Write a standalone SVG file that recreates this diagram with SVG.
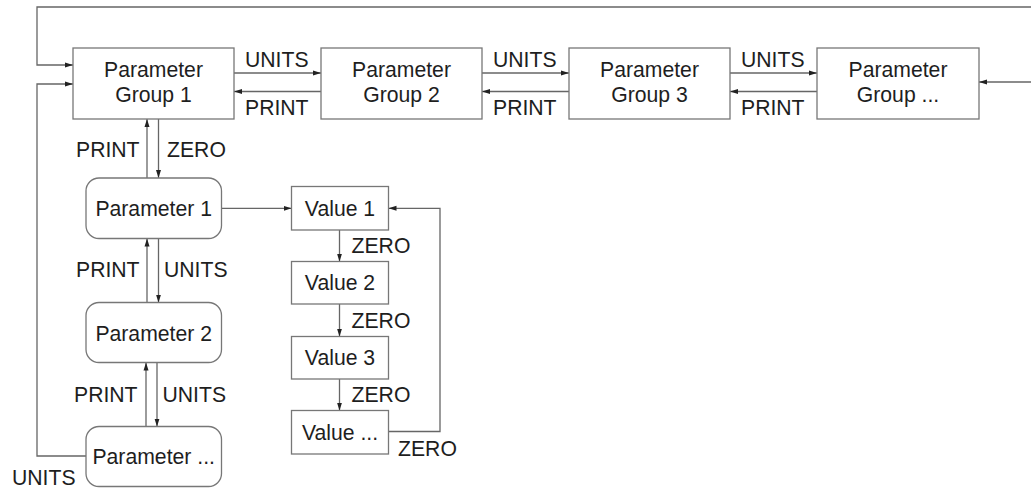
<svg xmlns="http://www.w3.org/2000/svg" width="1031" height="489" viewBox="0 0 1031 489">
<style>
.box{fill:#fff;stroke:#777;stroke-width:1.3}
.ln{fill:none;stroke:#666;stroke-width:1.3}
text{font-family:"Liberation Sans",Arial,sans-serif;font-size:21.2px;fill:#1e1e1e}
.c{text-anchor:middle}
</style>
<defs>
<marker id="ah" markerUnits="userSpaceOnUse" markerWidth="9" markerHeight="6" refX="8" refY="3" orient="auto">
<path d="M0,0.5 L8,3 L0,5.5 z" fill="#222"/>
</marker>
</defs>
<rect width="1031" height="489" fill="#fff"/>
<g id="connectors">
<path class="ln" d="M1031,7 H37 V65 H73" marker-end="url(#ah)"/>
<path class="ln" d="M86,456 H37 V84 H73" marker-end="url(#ah)"/>
<path class="ln" d="M1031,82 H979" marker-end="url(#ah)"/>
<path class="ln" d="M234,73 H321" marker-end="url(#ah)"/>
<path class="ln" d="M321,91.5 H234" marker-end="url(#ah)"/>
<path class="ln" d="M482,73 H569" marker-end="url(#ah)"/>
<path class="ln" d="M569,91.5 H482" marker-end="url(#ah)"/>
<path class="ln" d="M730,73 H817" marker-end="url(#ah)"/>
<path class="ln" d="M817,91.5 H730" marker-end="url(#ah)"/>
<path class="ln" d="M147,178 V119" marker-end="url(#ah)"/>
<path class="ln" d="M158.5,119 V178" marker-end="url(#ah)"/>
<path class="ln" d="M147,302.5 V238.5" marker-end="url(#ah)"/>
<path class="ln" d="M158.5,238.5 V302.5" marker-end="url(#ah)"/>
<path class="ln" d="M146,426.5 V362.5" marker-end="url(#ah)"/>
<path class="ln" d="M157,362.5 V426.5" marker-end="url(#ah)"/>
<path class="ln" d="M221.5,208.3 H291.5" marker-end="url(#ah)"/>
<path class="ln" d="M339.5,230 V261.5" marker-end="url(#ah)"/>
<path class="ln" d="M339.5,304 V336.5" marker-end="url(#ah)"/>
<path class="ln" d="M339.5,379 V410.5" marker-end="url(#ah)"/>
<path class="ln" d="M388.5,431.5 H440 V208.3 H388.5" marker-end="url(#ah)"/>
</g>
<g id="labels">
<text x="245" y="67">UNITS</text>
<text x="245" y="115">PRINT</text>
<text x="493" y="67">UNITS</text>
<text x="493" y="115">PRINT</text>
<text x="741" y="67">UNITS</text>
<text x="741" y="115">PRINT</text>
<text x="76" y="157">PRINT</text>
<text x="167" y="157">ZERO</text>
<text x="76" y="277">PRINT</text>
<text x="164" y="277">UNITS</text>
<text x="74" y="401.5">PRINT</text>
<text x="162.5" y="401.5">UNITS</text>
<text x="12" y="485">UNITS</text>
<text x="351.5" y="253">ZERO</text>
<text x="351.5" y="328">ZERO</text>
<text x="351.5" y="401.5">ZERO</text>
<text x="398" y="456">ZERO</text>
</g>
<g id="pg1"><rect class="box" x="73" y="48" width="161" height="71"/><text class="c" x="153.5" y="77">Parameter</text><text class="c" x="153.5" y="102">Group 1</text></g>
<g id="pg2"><rect class="box" x="321" y="48" width="161" height="71"/><text class="c" x="401.5" y="77">Parameter</text><text class="c" x="401.5" y="102">Group 2</text></g>
<g id="pg3"><rect class="box" x="569" y="48" width="161" height="71"/><text class="c" x="649.5" y="77">Parameter</text><text class="c" x="649.5" y="102">Group 3</text></g>
<g id="pgn"><rect class="box" x="817" y="48" width="162" height="71"/><text class="c" x="898" y="77">Parameter</text><text class="c" x="898" y="102">Group ...</text></g>
<g id="p1"><rect class="box" x="86" y="178" width="135.5" height="60.5" rx="13"/><text class="c" x="153.7" y="215.5">Parameter 1</text></g>
<g id="p2"><rect class="box" x="86" y="302.5" width="135.5" height="60" rx="13"/><text class="c" x="153.7" y="340.5">Parameter 2</text></g>
<g id="pn"><rect class="box" x="86" y="426.5" width="135.5" height="60" rx="13"/><text class="c" x="153.7" y="464">Parameter ...</text></g>
<g id="v1"><rect class="box" x="291.5" y="186.5" width="97" height="43.5"/><text class="c" x="340" y="215.5">Value 1</text></g>
<g id="v2"><rect class="box" x="291.5" y="261.5" width="97" height="42.5"/><text class="c" x="340" y="290">Value 2</text></g>
<g id="v3"><rect class="box" x="291.5" y="336.5" width="97" height="42.5"/><text class="c" x="340" y="365">Value 3</text></g>
<g id="vn"><rect class="box" x="291.5" y="410.5" width="97" height="43.5"/><text class="c" x="340" y="440">Value ...</text></g>
</svg>
